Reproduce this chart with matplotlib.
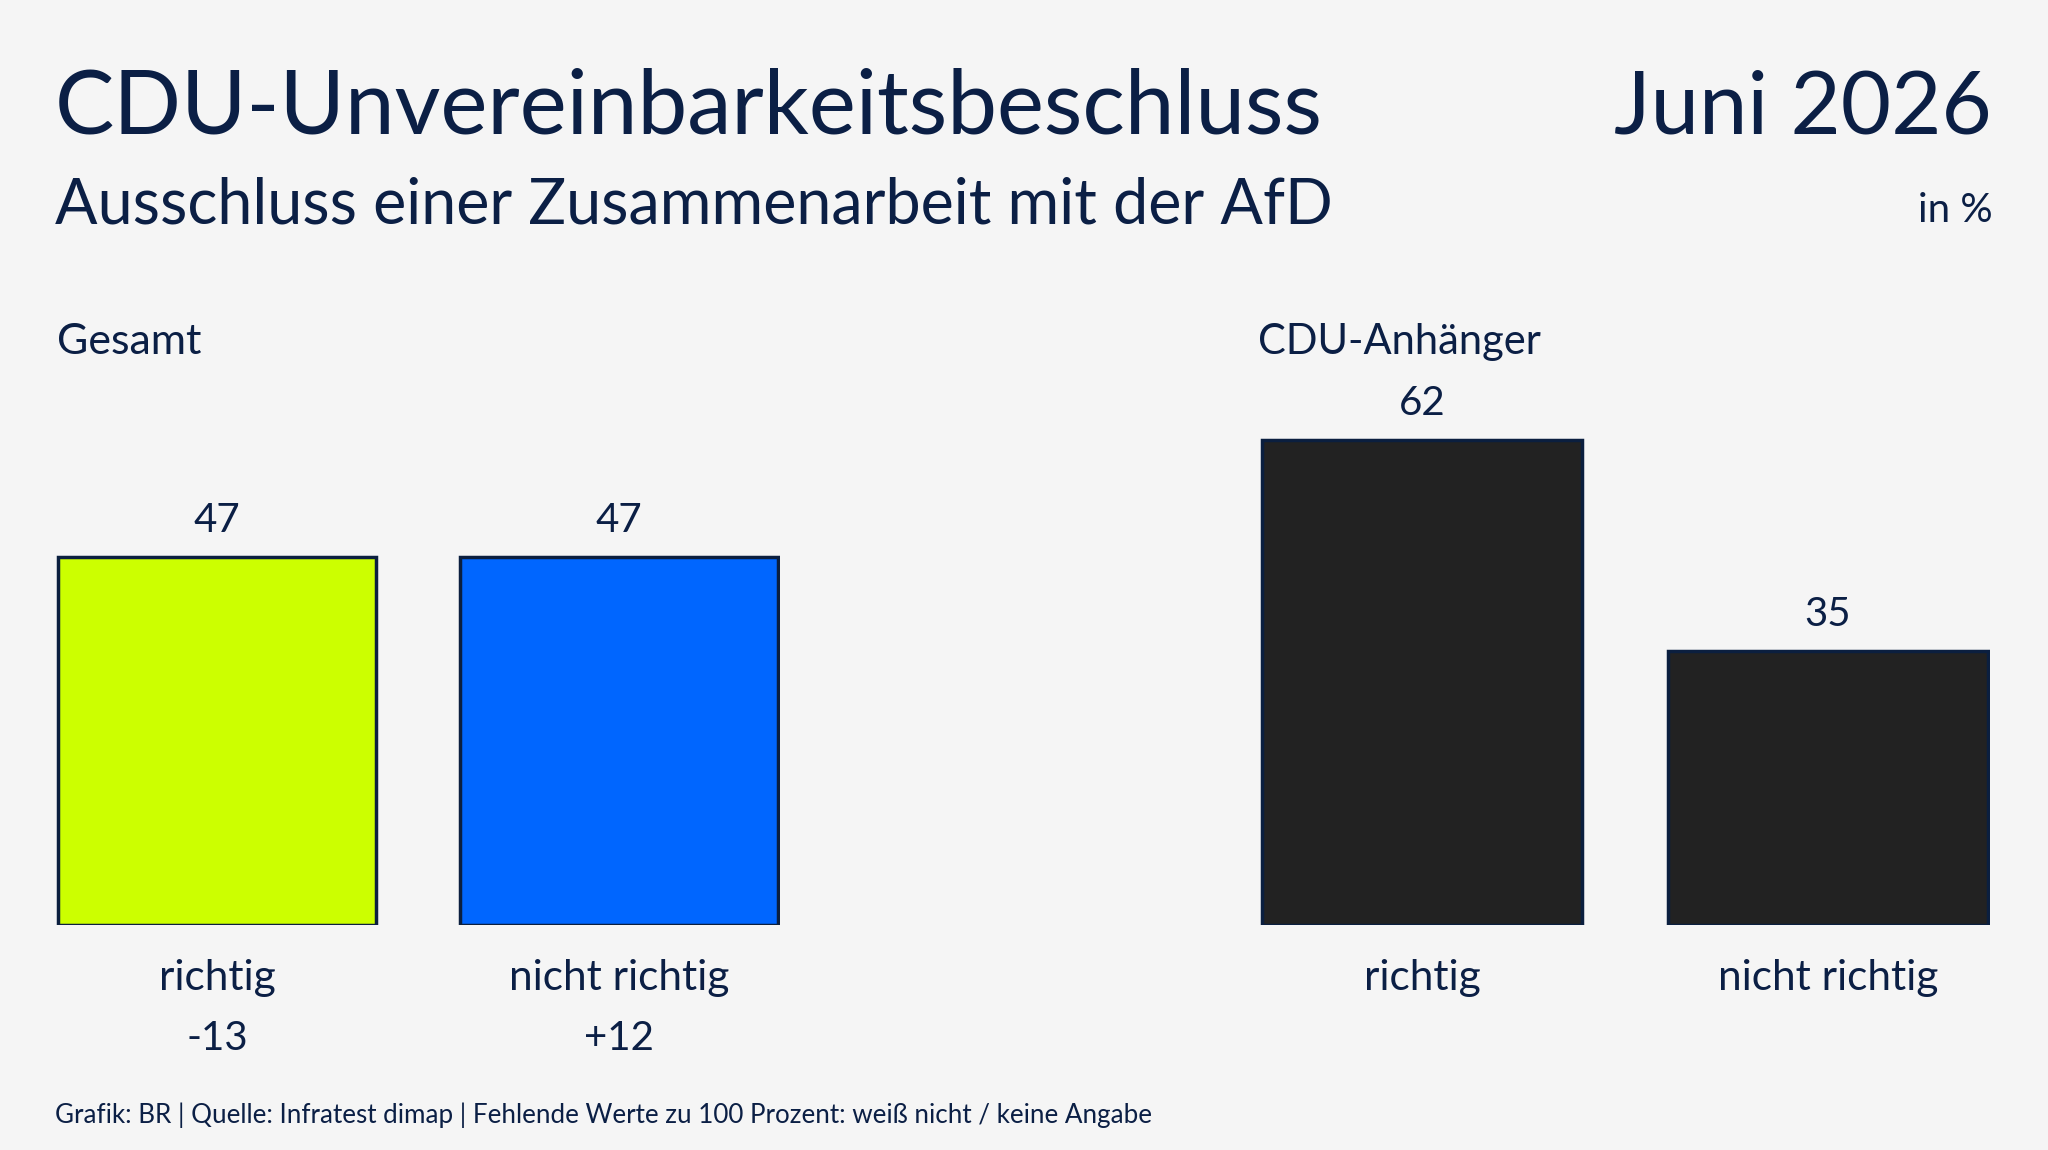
import matplotlib
matplotlib.use("Agg")
import matplotlib.pyplot as plt

# ---- data ----
categories = ["richtig", "nicht richtig"]
gesamt_values = [47, 47]
gesamt_changes = ["-13", "+12"]
cdu_values = [62, 35]
group_titles = ["Gesamt", "CDU-Anhänger"]
gesamt_colors = ["#ccff00", "#0066ff"]
cdu_colors = ["#222222", "#222222"]

title = "CDU-Unvereinbarkeitsbeschluss"
subtitle = "Ausschluss einer Zusammenarbeit mit der AfD"
date_label = "Juni 2026"
unit_label = "in %"
footer = "Grafik: BR | Quelle: Infratest dimap | Fehlende Werte zu 100 Prozent: weiß nicht / keine Angabe"

W, H = 2048, 1150
DPI = 100
BG = "#f5f5f5"
TXT = "#0b1f45"
EDGE = "#0b1f3f"
FONT = ["Lato", "DejaVu Sans"]

plt.rcParams['font.family'] = FONT

fig = plt.figure(figsize=(W / DPI, H / DPI), dpi=DPI, facecolor=BG)

def px_axes(x0, x1, ytop, ybot):
    return fig.add_axes([x0 / W, 1 - ybot / H, (x1 - x0) / W, (ybot - ytop) / H])

YMAX = 70
BAR_W = 0.79

def draw_group(ax, values, colors, changes=None):
    ax.set_facecolor("none")
    xs = list(range(len(values)))
    ax.bar(xs, values, width=BAR_W, color=colors, edgecolor=EDGE, linewidth=2.5)
    ax.set_xlim(-BAR_W / 2 - 0.005, len(values) - 1 + BAR_W / 2 + 0.005)
    ax.set_ylim(0, YMAX)
    ax.axis("off")
    for i, v in enumerate(values):
        ax.annotate(f"{v}", xy=(i, v), xytext=(0, 18), textcoords="offset points",
                    ha="center", va="baseline", fontsize=29, color=TXT)
        ax.annotate(categories[i], xy=(i, 0), xytext=(0, -47), textcoords="offset points",
                    ha="center", va="baseline", fontsize=30.5, color=TXT)
        if changes is not None:
            ax.annotate(changes[i], xy=(i, 0), xytext=(0, -90), textcoords="offset points",
                        ha="center", va="baseline", fontsize=29, color=TXT)

# bar bottom at y=925 px, 7.83 px per unit -> top of axes
ybot = 925
ytop = ybot - YMAX * 7.83

ax1 = px_axes(56, 780, ytop, ybot)
draw_group(ax1, gesamt_values, gesamt_colors, gesamt_changes)

ax2 = px_axes(1260, 1990, ytop, ybot)
draw_group(ax2, cdu_values, cdu_colors)

def ftext(x, y, s, **kw):
    fig.text(x / W, 1 - y / H, s, color=TXT, va="baseline", **kw)

ftext(55, 133, title, fontsize=64, ha="left")
ftext(1992, 133, date_label, fontsize=62.5, ha="right")
ftext(55, 224, subtitle, fontsize=45.3, ha="left")
ftext(1993, 222, unit_label, fontsize=29, ha="right")
ftext(57, 354, group_titles[0], fontsize=31, ha="left")
ftext(1258, 354, group_titles[1], fontsize=30, ha="left")
ftext(55, 1123, footer, fontsize=18.7, ha="left")

fig.savefig("out.png", dpi=DPI, facecolor=BG)
